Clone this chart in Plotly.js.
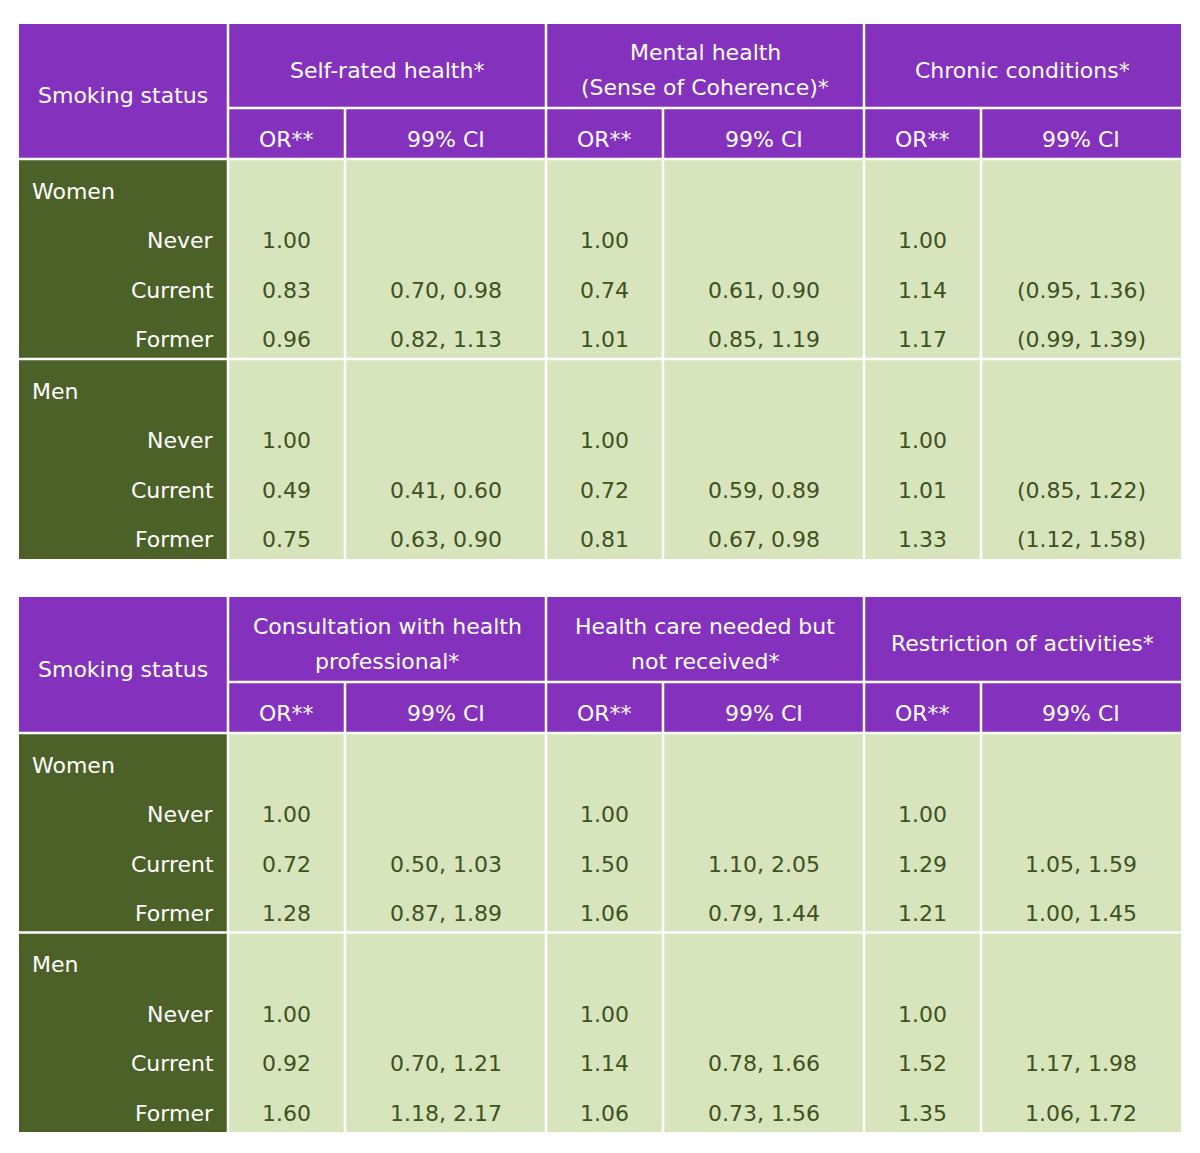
<!DOCTYPE html>
<html>
<head>
<meta charset="utf-8">
<script src="https://cdn.plot.ly/plotly-3.0.1.min.js"></script>
<style>html,body{margin:0;padding:0;background:#fff;}#chart{width:1200px;height:1153px;}</style>
</head>
<body>
<div id="chart"></div>
<script>
// ---------- DATA ----------
const stubHeader = "Smoking status";
const subHeaders = ["OR**", "99% CI"];
const sexes = ["Women", "Men"];
const statuses = ["Never", "Current", "Former"];

const outcomesTop = ["Self-rated health*", "Mental health<br>(Sense of Coherence)*", "Chronic conditions*"];
const outcomesBottom = ["Consultation with health<br>professional*", "Health care needed but<br>not received*", "Restriction of activities*"];

// OR values: Women (Never, Current, Former), Men (Never, Current, Former)
const orSelfRated   = [1.00, 0.83, 0.96, 1.00, 0.49, 0.75];
const ciSelfRated   = ["", "0.70, 0.98", "0.82, 1.13", "", "0.41, 0.60", "0.63, 0.90"];
const orMental      = [1.00, 0.74, 1.01, 1.00, 0.72, 0.81];
const ciMental      = ["", "0.61, 0.90", "0.85, 1.19", "", "0.59, 0.89", "0.67, 0.98"];
const orChronic     = [1.00, 1.14, 1.17, 1.00, 1.01, 1.33];
const ciChronic     = ["", "(0.95, 1.36)", "(0.99, 1.39)", "", "(0.85, 1.22)", "(1.12, 1.58)"];

const orConsult     = [1.00, 0.72, 1.28, 1.00, 0.92, 1.60];
const ciConsult     = ["", "0.50, 1.03", "0.87, 1.89", "", "0.70, 1.21", "1.18, 2.17"];
const orUnmet       = [1.00, 1.50, 1.06, 1.00, 1.14, 1.06];
const ciUnmet       = ["", "1.10, 2.05", "0.79, 1.44", "", "0.78, 1.66", "0.73, 1.56"];
const orRestrict    = [1.00, 1.29, 1.21, 1.00, 1.52, 1.35];
const ciRestrict    = ["", "1.05, 1.59", "1.00, 1.45", "", "1.17, 1.98", "1.06, 1.72"];

// ---------- LAYOUT / STYLE ----------
const W = 1200, H = 1153;
const colEdges = [19, 228, 345, 546, 663, 864, 981, 1181];
const PURPLE = "#8432BE", DKGREEN = "#4B6128", LTGREEN = "#D8E4BC", BODYTXT = "#3E5120";
const FONT = "DejaVu Sans, Verdana, sans-serif";
const FS = 22;
const LW = 2.5;

const tableSpecs = [
  {top: 24, h1: 84, h2: 51, sec: 200, outcomes: outcomesTop,
   ors: [orSelfRated, orMental, orChronic], cis: [ciSelfRated, ciMental, ciChronic]},
  {top: 597, h1: 85, h2: 51, sec: 199.5, outcomes: outcomesBottom,
   ors: [orConsult, orUnmet, orRestrict], cis: [ciConsult, ciUnmet, ciRestrict]}
];

const shapes = [];
const annotations = [];

function rect(x0, x1, y0, y1, fill) {
  shapes.push({type: "rect", xref: "x", yref: "y", x0: x0, x1: x1, y0: y0, y1: y1,
    fillcolor: fill, line: {width: 0}, layer: "below"});
}
function line(x0, y0, x1, y1) {
  shapes.push({type: "line", xref: "x", yref: "y", x0: x0, y0: y0, x1: x1, y1: y1,
    line: {color: "#FFFFFF", width: LW}, layer: "above"});
}
function text(t, x, y, xanchor, color) {
  annotations.push({text: t, x: x, y: y, xref: "x", yref: "y", xanchor: xanchor, yanchor: "middle",
    showarrow: false, borderpad: 0, borderwidth: 0, font: {family: FONT, size: FS, color: color}});
}
const TOFF = 3; // visual offset of text centre

tableSpecs.forEach(function (spec) {
  const yH1 = spec.top, yH2 = spec.top + spec.h1, yB = yH2 + spec.h2;
  const yMid = yB + spec.sec, yEnd = yB + 2 * spec.sec;
  const left = colEdges[0], right = colEdges[colEdges.length - 1];
  // backgrounds
  rect(left, right, yH1, yB, PURPLE);
  rect(left, colEdges[1], yB, yEnd, DKGREEN);
  rect(colEdges[1], right, yB, yEnd, LTGREEN);
  // horizontal lines
  line(colEdges[1], yH2, right, yH2);
  line(left, yB, right, yB);
  line(left, yMid, right, yMid);
  // vertical lines
  for (let i = 1; i < colEdges.length - 1; i++) {
    const isGroupEdge = (i % 2 === 1);
    line(colEdges[i], isGroupEdge ? yH1 : yH2, colEdges[i], yEnd);
  }
  // header texts
  text(stubHeader, (colEdges[0] + colEdges[1]) / 2 - 1, (yH1 + yB) / 2 + TOFF + 1, "center", "#FFFFFF");
  spec.outcomes.forEach(function (o, g) {
    const cx = (colEdges[1 + 2 * g] + colEdges[3 + 2 * g]) / 2;
    const lines = o.split("<br>");
    const cy = (yH1 + yH2) / 2 + TOFF + 1;
    const gap = 35;
    lines.forEach(function (l, k) {
      text(l, cx, cy + (k - (lines.length - 1) / 2) * gap, "center", "#FFFFFF");
    });
    subHeaders.forEach(function (s, j) {
      const c0 = colEdges[1 + 2 * g + j], c1 = colEdges[2 + 2 * g + j];
      text(s, (c0 + c1) / 2, (yH2 + yB) / 2 + TOFF + 3, "center", "#FFFFFF");
    });
  });
  // body
  sexes.forEach(function (sex, si) {
    const secTop = yB + si * spec.sec;
    const rowY = function (r) { return secTop + 32 + r * 49.5; };
    text(sex, 32, rowY(0), "left", "#FFFFFF");
    statuses.forEach(function (st, ri) {
      const y = rowY(ri + 1);
      text(st, 214, y, "right", "#FFFFFF");
      spec.ors.forEach(function (arr, g) {
        const idx = si * 3 + ri;
        const c0 = colEdges[1 + 2 * g], c1 = colEdges[2 + 2 * g], c2 = colEdges[3 + 2 * g];
        text(arr[idx].toFixed(2), (c0 + c1) / 2, y, "center", BODYTXT);
        const ci = spec.cis[g][idx];
        if (ci) text(ci, (c1 + c2) / 2, y, "center", BODYTXT);
      });
    });
  });
});

const layout = {
  width: W, height: H,
  margin: {l: 0, r: 0, t: 0, b: 0, pad: 0},
  paper_bgcolor: "#FFFFFF", plot_bgcolor: "#FFFFFF",
  xaxis: {range: [0, W], visible: false, fixedrange: true},
  yaxis: {range: [H, 0], visible: false, fixedrange: true},
  shapes: shapes, annotations: annotations, showlegend: false
};
Plotly.newPlot("chart", [{type: "scatter", x: [], y: [], hoverinfo: "skip"}], layout, {staticPlot: true, displayModeBar: false});
</script>
</body>
</html>
